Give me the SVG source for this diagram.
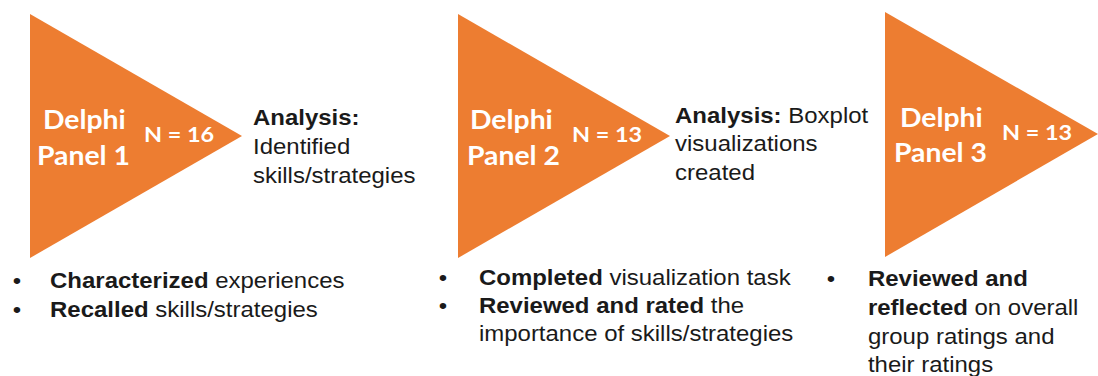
<svg xmlns="http://www.w3.org/2000/svg" width="1098" height="376" viewBox="0 0 1098 376">
  <style>
    .tri { fill: #ED7D31; }
    .panel { font-family: Lato, "Open Sans", sans-serif; font-weight: 700; fill: #FFFFFF; font-size: 26px; }
    .n { font-family: Lato, "Open Sans", sans-serif; font-weight: 700; fill: #FFFFFF; font-size: 21.5px; }
    .txt { font-family: "Liberation Sans", Arial, sans-serif; fill: #1A1A1A; font-size: 22px; }
    .b { font-weight: 700; }
  </style>
  <rect width="1098" height="376" fill="#FFFFFF"/>

  <!-- Orange triangles -->
  <g id="panel1">
    <polygon class="tri" points="30,14 242,136 30,258"/>
  </g>
  <g id="panel2">
    <polygon class="tri" points="458,14 670,136 458,258"/>
  </g>
  <g id="panel3">
    <polygon class="tri" points="885,12 1098,134 885,257"/>
  </g>

  <!-- All lettering uses a slightly widened face -->
  <g id="labels" transform="scale(1.09 1)">
    <g id="panel1-label">
      <text class="panel" x="39.4" y="129">Delphi</text>
      <text class="panel" x="33.9" y="165">Panel 1</text>
      <text class="n" x="132.1" y="142">N = 16</text>
    </g>

    <g id="analysis1">
      <text class="txt" x="232.1" y="125"><tspan class="b">Analysis:</tspan></text>
      <text class="txt" x="232.1" y="154">Identified</text>
      <text class="txt" x="232.1" y="183">skills/strategies</text>
    </g>

    <g id="panel2-label">
      <text class="panel" x="431.2" y="129">Delphi</text>
      <text class="panel" x="428.4" y="165">Panel 2</text>
      <text class="n" x="524.8" y="142">N = 13</text>
    </g>

    <g id="analysis2">
      <text class="txt" x="619.3" y="123"><tspan class="b">Analysis:</tspan> Boxplot</text>
      <text class="txt" x="619.3" y="151">visualizations</text>
      <text class="txt" x="619.3" y="180">created</text>
    </g>

    <g id="panel3-label">
      <text class="panel" x="825.7" y="127">Delphi</text>
      <text class="panel" x="820.2" y="162">Panel 3</text>
      <text class="n" x="919.3" y="140">N = 13</text>
    </g>

    <!-- Activities of each panel -->
    <g id="tasks1">
      <text class="txt" x="11.7" y="288">•</text>
      <text class="txt" x="45.9" y="288"><tspan class="b">Characterized</tspan> experiences</text>
      <text class="txt" x="11.7" y="317">•</text>
      <text class="txt" x="45.9" y="317"><tspan class="b">Recalled</tspan> skills/strategies</text>
    </g>

    <g id="tasks2">
      <text class="txt" x="402.6" y="285">•</text>
      <text class="txt" x="439.4" y="285"><tspan class="b">Completed</tspan> visualization task</text>
      <text class="txt" x="402.6" y="313">•</text>
      <text class="txt" x="439.4" y="313"><tspan class="b">Reviewed and rated</tspan> the</text>
      <text class="txt" x="439.4" y="341">importance of skills/strategies</text>
    </g>

    <g id="tasks3">
      <text class="txt" x="758.5" y="286">•</text>
      <text class="txt" x="796.3" y="286"><tspan class="b">Reviewed and</tspan></text>
      <text class="txt" x="796.3" y="315"><tspan class="b">reflected</tspan> on overall</text>
      <text class="txt" x="796.3" y="344">group ratings and</text>
      <text class="txt" x="796.3" y="372">their ratings</text>
    </g>
  </g>
</svg>
